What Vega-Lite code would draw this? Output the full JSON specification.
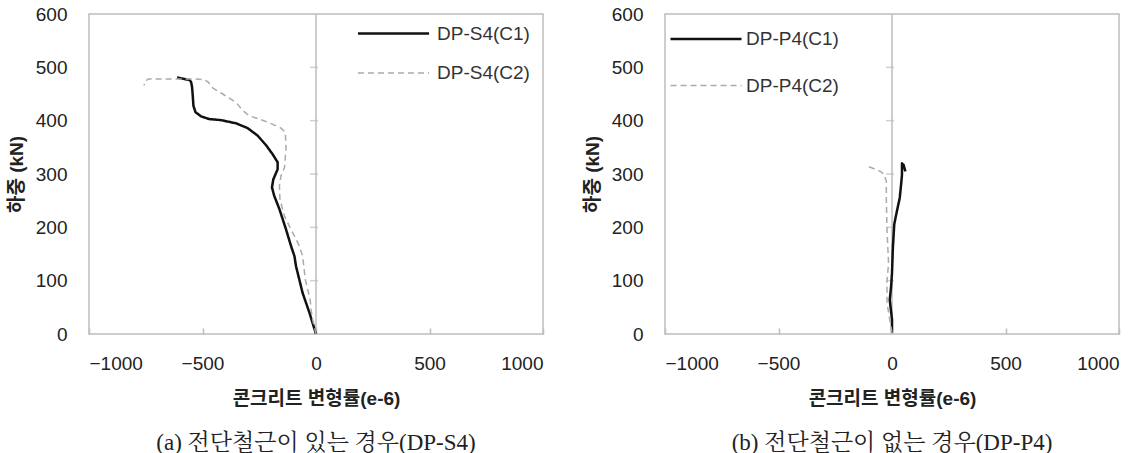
{
  "$schema": "https://vega.github.io/schema/vega-lite/v6.json",
  "background": "white",
  "padding": {"left": 6, "top": 1, "right": 5, "bottom": 0},
  "spacing": 37,
  "resolve": {"scale": {"color": "independent", "strokeDash": "independent", "strokeWidth": "independent"}, "legend": {"color": "independent", "strokeDash": "independent", "strokeWidth": "independent"}},
  "config": {
    "view": {"stroke": "#bdbdbd", "strokeWidth": 1.5},
    "axis": {
      "labelFont": "Liberation Sans",
      "labelFontSize": 19,
      "labelColor": "#222222",
      "titleFont": "Liberation Sans, Noto Sans CJK KR",
      "titleFontSize": 19,
      "titleFontWeight": "bold",
      "titleColor": "#222222",
      "grid": false,
      "domain": false
    },
    "legend": {
      "labelFont": "Liberation Sans",
      "labelFontSize": 19,
      "labelColor": "#333333",
      "symbolType": "stroke",
      "symbolSize": 5041,
      "symbolStrokeWidth": 2.5,
      "padding": 0,
      "labelOffset": 6
    },
    "title": {
      "font": "Liberation Serif, Noto Serif CJK KR, Noto Sans CJK KR",
      "fontSize": 23,
      "fontWeight": "normal",
      "color": "#222222"
    }
  },
  "datasets": {
    "zero": [{"v": 0}],
    "ticks": [{"y": 100}, {"y": 200}, {"y": 300}, {"y": 400}, {"y": 500}],
    "s4": [
      {"series": "DP-S4(C1)", "i": 0, "strain": 0, "load": 0},
      {"series": "DP-S4(C1)", "i": 1, "strain": -29, "load": 40},
      {"series": "DP-S4(C1)", "i": 2, "strain": -59, "load": 77},
      {"series": "DP-S4(C1)", "i": 3, "strain": -88, "load": 127},
      {"series": "DP-S4(C1)", "i": 4, "strain": -95, "load": 146},
      {"series": "DP-S4(C1)", "i": 5, "strain": -110, "load": 165},
      {"series": "DP-S4(C1)", "i": 6, "strain": -132, "load": 196},
      {"series": "DP-S4(C1)", "i": 7, "strain": -161, "load": 234},
      {"series": "DP-S4(C1)", "i": 8, "strain": -184, "load": 259},
      {"series": "DP-S4(C1)", "i": 9, "strain": -194, "load": 275},
      {"series": "DP-S4(C1)", "i": 10, "strain": -188, "load": 290},
      {"series": "DP-S4(C1)", "i": 11, "strain": -169, "load": 309},
      {"series": "DP-S4(C1)", "i": 12, "strain": -169, "load": 322},
      {"series": "DP-S4(C1)", "i": 13, "strain": -191, "load": 337},
      {"series": "DP-S4(C1)", "i": 14, "strain": -220, "load": 354},
      {"series": "DP-S4(C1)", "i": 15, "strain": -257, "load": 372},
      {"series": "DP-S4(C1)", "i": 16, "strain": -301, "load": 386},
      {"series": "DP-S4(C1)", "i": 17, "strain": -352, "load": 395},
      {"series": "DP-S4(C1)", "i": 18, "strain": -418, "load": 401},
      {"series": "DP-S4(C1)", "i": 19, "strain": -470, "load": 403},
      {"series": "DP-S4(C1)", "i": 20, "strain": -506, "load": 408},
      {"series": "DP-S4(C1)", "i": 21, "strain": -531, "load": 416},
      {"series": "DP-S4(C1)", "i": 22, "strain": -540, "load": 428},
      {"series": "DP-S4(C1)", "i": 23, "strain": -543, "load": 447},
      {"series": "DP-S4(C1)", "i": 24, "strain": -546, "load": 463},
      {"series": "DP-S4(C1)", "i": 25, "strain": -550, "load": 472},
      {"series": "DP-S4(C1)", "i": 26, "strain": -556, "load": 476},
      {"series": "DP-S4(C1)", "i": 27, "strain": -590, "load": 479},
      {"series": "DP-S4(C1)", "i": 28, "strain": -612, "load": 481},
      {"series": "DP-S4(C2)", "i": 0, "strain": 0, "load": 0},
      {"series": "DP-S4(C2)", "i": 1, "strain": -18, "load": 33},
      {"series": "DP-S4(C2)", "i": 2, "strain": -26, "load": 65},
      {"series": "DP-S4(C2)", "i": 3, "strain": -47, "load": 102},
      {"series": "DP-S4(C2)", "i": 4, "strain": -59, "load": 146},
      {"series": "DP-S4(C2)", "i": 5, "strain": -73, "load": 165},
      {"series": "DP-S4(C2)", "i": 6, "strain": -103, "load": 190},
      {"series": "DP-S4(C2)", "i": 7, "strain": -139, "load": 221},
      {"series": "DP-S4(C2)", "i": 8, "strain": -159, "load": 253},
      {"series": "DP-S4(C2)", "i": 9, "strain": -161, "load": 278},
      {"series": "DP-S4(C2)", "i": 10, "strain": -154, "load": 297},
      {"series": "DP-S4(C2)", "i": 11, "strain": -139, "load": 312},
      {"series": "DP-S4(C2)", "i": 12, "strain": -132, "load": 347},
      {"series": "DP-S4(C2)", "i": 13, "strain": -135, "load": 378},
      {"series": "DP-S4(C2)", "i": 14, "strain": -154, "load": 386},
      {"series": "DP-S4(C2)", "i": 15, "strain": -206, "load": 396},
      {"series": "DP-S4(C2)", "i": 16, "strain": -250, "load": 403},
      {"series": "DP-S4(C2)", "i": 17, "strain": -294, "load": 409},
      {"series": "DP-S4(C2)", "i": 18, "strain": -323, "load": 419},
      {"series": "DP-S4(C2)", "i": 19, "strain": -352, "load": 434},
      {"series": "DP-S4(C2)", "i": 20, "strain": -411, "load": 450},
      {"series": "DP-S4(C2)", "i": 21, "strain": -462, "load": 463},
      {"series": "DP-S4(C2)", "i": 22, "strain": -473, "load": 472},
      {"series": "DP-S4(C2)", "i": 23, "strain": -492, "load": 477},
      {"series": "DP-S4(C2)", "i": 24, "strain": -528, "load": 478},
      {"series": "DP-S4(C2)", "i": 25, "strain": -740, "load": 478},
      {"series": "DP-S4(C2)", "i": 26, "strain": -755, "load": 472},
      {"series": "DP-S4(C2)", "i": 27, "strain": -757, "load": 466}
    ],
    "p4": [
      {"series": "DP-P4(C1)", "i": 0, "strain": 0, "load": 3},
      {"series": "DP-P4(C1)", "i": 1, "strain": 0, "load": 27},
      {"series": "DP-P4(C1)", "i": 2, "strain": -10, "load": 64},
      {"series": "DP-P4(C1)", "i": 3, "strain": -4, "load": 89},
      {"series": "DP-P4(C1)", "i": 4, "strain": 0, "load": 114},
      {"series": "DP-P4(C1)", "i": 5, "strain": 4, "load": 163},
      {"series": "DP-P4(C1)", "i": 6, "strain": 10, "load": 206},
      {"series": "DP-P4(C1)", "i": 7, "strain": 19, "load": 225},
      {"series": "DP-P4(C1)", "i": 8, "strain": 34, "load": 255},
      {"series": "DP-P4(C1)", "i": 9, "strain": 40, "load": 280},
      {"series": "DP-P4(C1)", "i": 10, "strain": 44, "load": 299},
      {"series": "DP-P4(C1)", "i": 11, "strain": 44, "load": 320},
      {"series": "DP-P4(C1)", "i": 12, "strain": 51, "load": 317},
      {"series": "DP-P4(C1)", "i": 13, "strain": 59, "load": 305},
      {"series": "DP-P4(C2)", "i": 0, "strain": 0, "load": 3},
      {"series": "DP-P4(C2)", "i": 1, "strain": -10, "load": 27},
      {"series": "DP-P4(C2)", "i": 2, "strain": -22, "load": 58},
      {"series": "DP-P4(C2)", "i": 3, "strain": -22, "load": 101},
      {"series": "DP-P4(C2)", "i": 4, "strain": -15, "load": 132},
      {"series": "DP-P4(C2)", "i": 5, "strain": -22, "load": 194},
      {"series": "DP-P4(C2)", "i": 6, "strain": -25, "load": 255},
      {"series": "DP-P4(C2)", "i": 7, "strain": -25, "load": 286},
      {"series": "DP-P4(C2)", "i": 8, "strain": -34, "load": 299},
      {"series": "DP-P4(C2)", "i": 9, "strain": -51, "load": 305},
      {"series": "DP-P4(C2)", "i": 10, "strain": -103, "load": 314}
    ]
  },
  "hconcat": [
    {
      "width": 454,
      "height": 320,
      "title": {"text": "(a) 전단철근이 있는 경우(DP-S4)", "orient": "bottom", "offset": 24},
      "layer": [
        {
          "data": {"name": "zero"},
          "mark": {"type": "rule", "color": "#bdbdbd", "strokeWidth": 1.5},
          "encoding": {"x": {"field": "v", "type": "quantitative", "scale": {"domain": [-1000, 1000], "nice": false}}}
        },
        {
          "data": {"name": "ticks"},
          "mark": {"type": "tick", "orient": "horizontal", "color": "#bdbdbd", "size": 8, "thickness": 1.5, "xOffset": -2},
          "encoding": {
            "x": {"datum": 0, "type": "quantitative"},
            "y": {"field": "y", "type": "quantitative", "scale": {"domain": [0, 600], "nice": false}}
          }
        },
        {
          "data": {"name": "s4"},
          "mark": {"type": "line", "strokeJoin": "round"},
          "encoding": {
            "x": {"field": "strain", "type": "quantitative", "scale": {"domain": [-1000, 1000], "nice": false},
              "title": "콘크리트 변형률(e-6)",
              "axis": {"values": [-1000, -500, 0, 500, 1000], "format": "d", "tickSize": -6, "tickColor": "#bdbdbd", "tickWidth": 1.5, "labelPadding": 26, "titlePadding": 16}},
            "y": {"field": "load", "type": "quantitative", "scale": {"domain": [0, 600], "nice": false},
              "title": "하중 (kN)",
              "axis": {"values": [0, 100, 200, 300, 400, 500, 600], "ticks": false, "labelPadding": 22, "titlePadding": 9}},
            "order": {"field": "i"},
            "color": {"field": "series", "type": "nominal", "scale": {"domain": ["DP-S4(C1)", "DP-S4(C2)"], "range": ["#111111", "#aaaaaa"]},
              "legend": {"orient": "none", "legendX": 288, "legendY": 3, "rowPadding": 13, "symbolType": "M-2.37,0H2.37", "symbolSize": 900, "labelOffset": 27, "title": null}},
            "strokeDash": {"field": "series", "type": "nominal", "scale": {"domain": ["DP-S4(C1)", "DP-S4(C2)"], "range": [[1, 0], [6, 4]]}},
            "strokeWidth": {"field": "series", "type": "nominal", "scale": {"domain": ["DP-S4(C1)", "DP-S4(C2)"], "range": [2.5, 1.5]}}
          }
        }
      ]
    },
    {
      "width": 454,
      "height": 320,
      "title": {"text": "(b) 전단철근이 없는 경우(DP-P4)", "orient": "bottom", "offset": 24},
      "layer": [
        {
          "data": {"name": "zero"},
          "mark": {"type": "rule", "color": "#bdbdbd", "strokeWidth": 1.5},
          "encoding": {"x": {"field": "v", "type": "quantitative", "scale": {"domain": [-1000, 1000], "nice": false}}}
        },
        {
          "data": {"name": "ticks"},
          "mark": {"type": "tick", "orient": "horizontal", "color": "#bdbdbd", "size": 8, "thickness": 1.5, "xOffset": -2},
          "encoding": {
            "x": {"datum": 0, "type": "quantitative"},
            "y": {"field": "y", "type": "quantitative", "scale": {"domain": [0, 600], "nice": false}}
          }
        },
        {
          "data": {"name": "p4"},
          "mark": {"type": "line", "strokeJoin": "round"},
          "encoding": {
            "x": {"field": "strain", "type": "quantitative", "scale": {"domain": [-1000, 1000], "nice": false},
              "title": "콘크리트 변형률(e-6)",
              "axis": {"values": [-1000, -500, 0, 500, 1000], "format": "d", "tickSize": -6, "tickColor": "#bdbdbd", "tickWidth": 1.5, "labelPadding": 26, "titlePadding": 16}},
            "y": {"field": "load", "type": "quantitative", "scale": {"domain": [0, 600], "nice": false},
              "title": "하중 (kN)",
              "axis": {"values": [0, 100, 200, 300, 400, 500, 600], "ticks": false, "labelPadding": 22, "titlePadding": 9}},
            "order": {"field": "i"},
            "color": {"field": "series", "type": "nominal", "scale": {"domain": ["DP-P4(C1)", "DP-P4(C2)"], "range": ["#111111", "#aaaaaa"]},
              "legend": {"orient": "none", "legendX": 4, "legendY": -12, "rowPadding": 0, "labelOffset": 3, "title": null}},
            "strokeDash": {"field": "series", "type": "nominal", "scale": {"domain": ["DP-P4(C1)", "DP-P4(C2)"], "range": [[1, 0], [6, 4]]}},
            "strokeWidth": {"field": "series", "type": "nominal", "scale": {"domain": ["DP-P4(C1)", "DP-P4(C2)"], "range": [2.5, 1.5]}}
          }
        }
      ]
    }
  ]
}
